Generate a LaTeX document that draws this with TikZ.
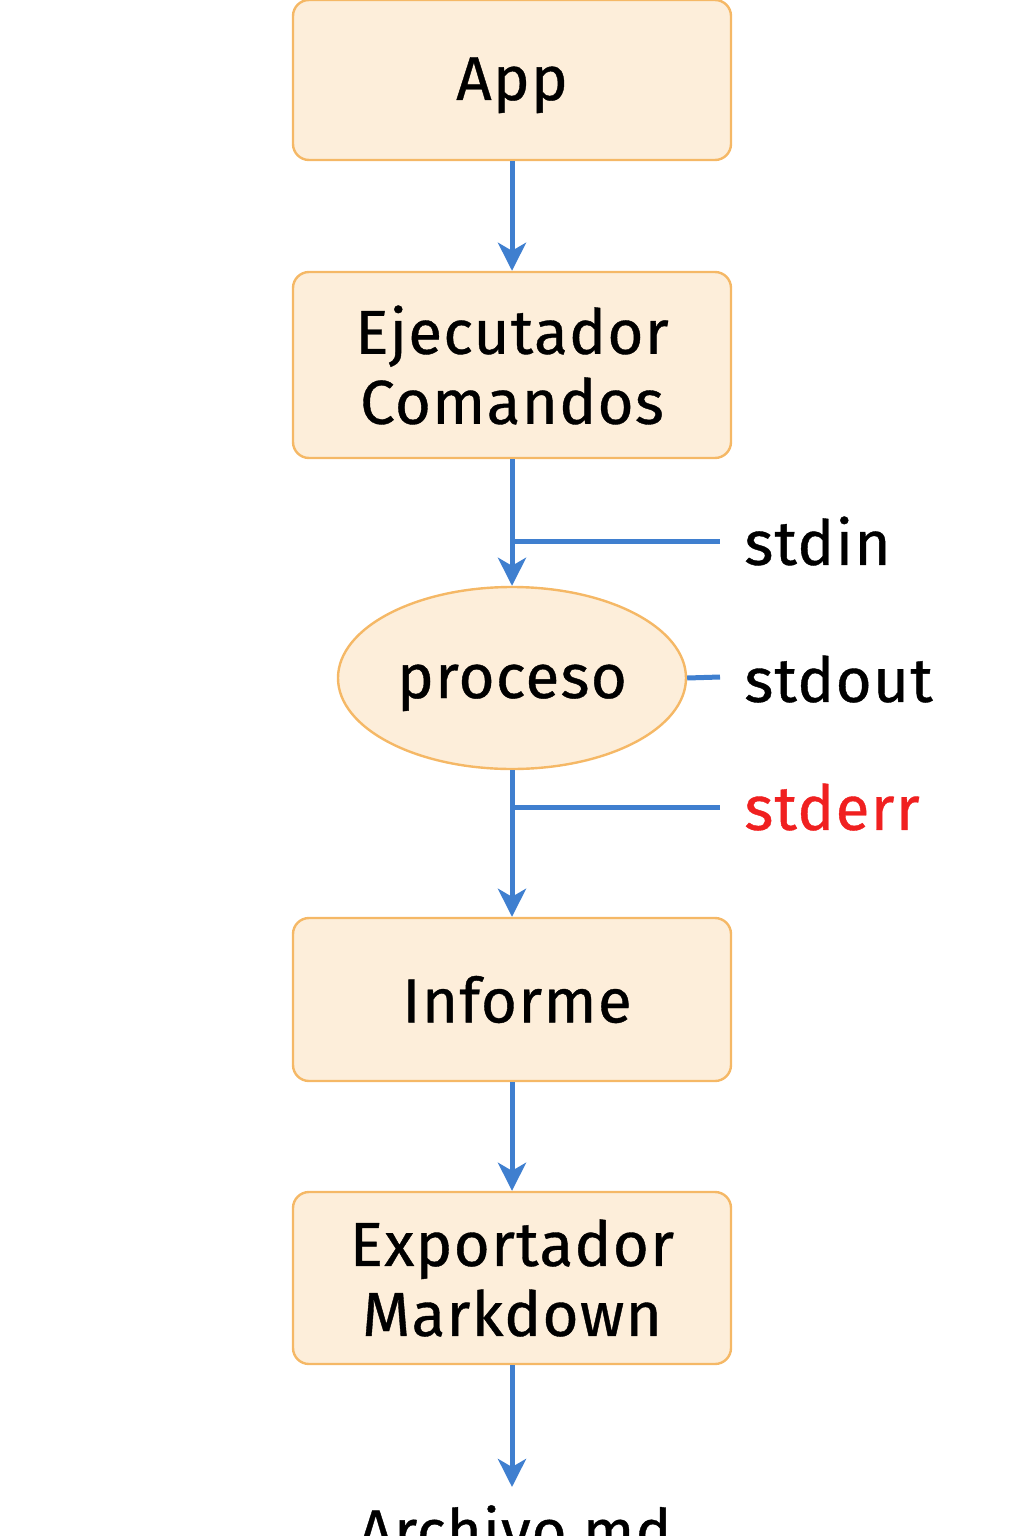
\documentclass[tikz,border=0pt]{standalone}
\usepackage{fontspec}
\setmainfont{Fira Sans}[FakeBold=0.6, LetterSpace=2]
\usetikzlibrary{arrows.meta,shapes.geometric}
\definecolor{boxfill}{HTML}{FDEEDA}
\definecolor{boxline}{HTML}{F5B866}
\definecolor{arrowblue}{HTML}{3F7FCF}
\definecolor{errred}{HTML}{F02020}
\tikzset{
  blockbox/.style={draw=boxline, fill=boxfill, line width=1.2pt, rounded corners=8pt, minimum width=219pt, align=center, font=\fontsize{31}{35}\selectfont, inner sep=0pt},
  procbox/.style={ellipse, draw=boxline, fill=boxfill, line width=1.2pt, minimum width=174pt, minimum height=91pt, inner sep=0pt, font=\fontsize{31}{35}\selectfont},
  flow/.style={draw=arrowblue, line width=2.5pt, -{Stealth[length=14pt,width=14pt,inset=4pt]}},
  branch/.style={draw=arrowblue, line width=2.5pt},
  lbl/.style={anchor=west, font=\fontsize{31}{35}\selectfont, inner sep=0pt}
}
\begin{document}
\begin{tikzpicture}[x=0.5pt,y=-0.5pt]
\useasboundingbox (0,0) rectangle (1024,1536);
\node[blockbox, minimum height=80pt, text height=20pt, text depth=0pt] (app) at (512,80) {App};
\node[blockbox, minimum height=93pt] (eje) at (512,365) {Ejecutador\\Comandos};
\node[procbox, text height=20pt, text depth=0pt] (proc) at (512,678) {proceso};
\node[blockbox, minimum height=81.5pt] (inf) at (512,999.5) {\hspace*{5pt}Informe};
\node[blockbox, minimum height=86pt] (exp) at (512,1278) {Exportador\\Markdown};
\node[font=\fontsize{30}{35}\selectfont, anchor=base, inner sep=0pt] (arch) at (515,1552) {Archivo.md};
\coordinate (archtop) at (512,1487);
\draw[flow] (app.south) -- (eje.north);
\draw[flow] (eje.south) -- (proc.north);
\draw[flow] (proc.south) -- (inf.north);
\draw[flow] (inf.south) -- (exp.north);
\draw[flow] (exp.south) -- (archtop);
\coordinate (inb) at (512,541);
\coordinate (ine) at (720,541);
\coordinate (oute) at (720,677);
\coordinate (errb) at (512,807);
\coordinate (erre) at (720,807);
\draw[branch] (inb) -- (ine);
\draw[branch] (proc.east) -- (oute);
\draw[branch] (errb) -- (erre);
\node[lbl] (stdin) at (744,541) {stdin};
\node[lbl] (stdout) at (744,679) {stdout};
\node[lbl, text=errred] (stderr) at (744,807) {stderr};
\end{tikzpicture}
\end{document}
